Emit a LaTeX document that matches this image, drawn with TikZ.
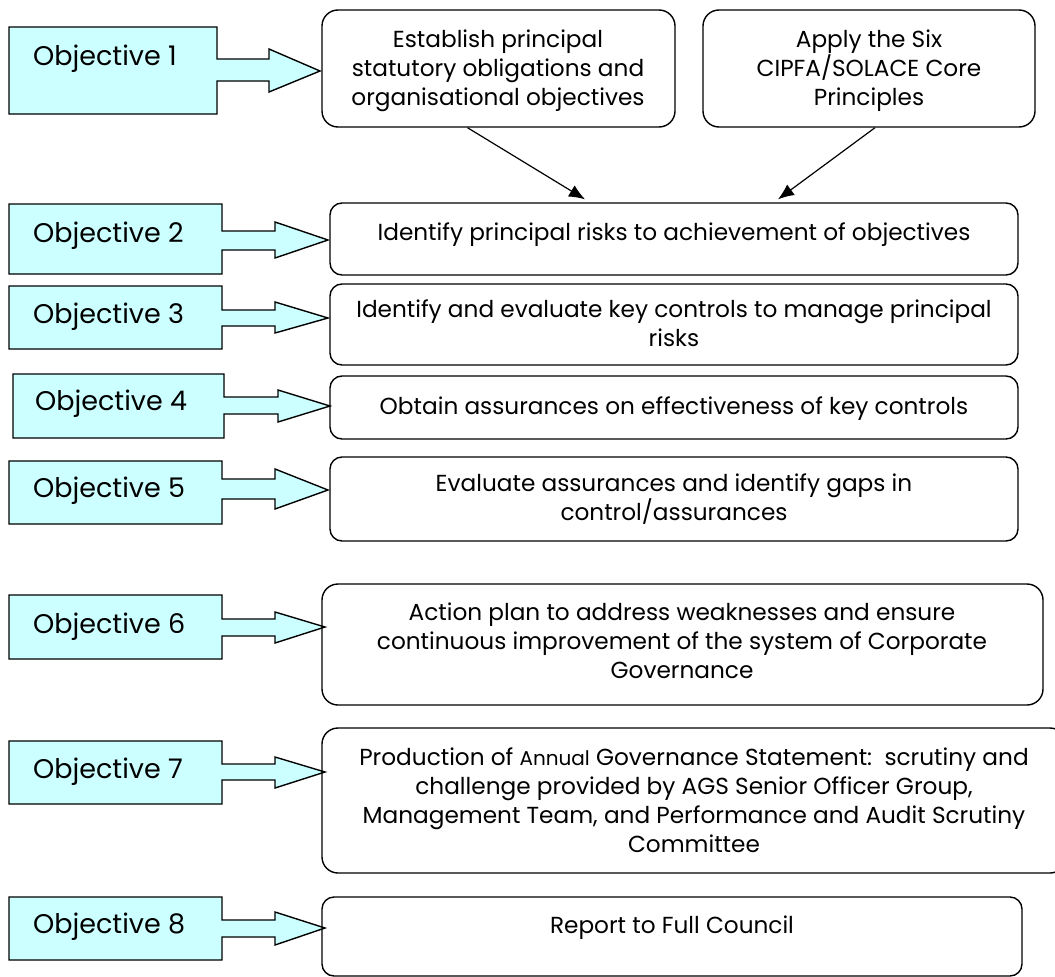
\documentclass[tikz,border=0pt]{standalone}
\usepackage{fontspec}
\setmainfont{Poppins}
\usetikzlibrary{arrows.meta}
\definecolor{objcyan}{RGB}{204,255,255}

\begin{document}
\begin{tikzpicture}[x=1pt,y=-1pt,>={Latex[length=16pt,width=13pt]},
    objshape/.style={draw=black,fill=objcyan,line width=1.4pt,line join=miter},
    objlabel/.style={anchor=base west,inner sep=0pt,font=\fontsize{27}{32}\selectfont},
    box/.style={draw=black,line width=1.4pt,rounded corners=12pt,inner sep=0pt},
    boxtext/.style={anchor=north,align=center,inner sep=0pt,font=\fontsize{23.2}{29}\selectfont,execute at begin node=\strut}]
                \useasboundingbox (0,0) rectangle (1055,977);
                \clip (0,0) rectangle (1055,977);
                % objectives
                \draw[objshape] (9,27) -- (217,27) -- (217,59) -- (269,59) -- (269,49) -- (320,71) -- (269,92) -- (269,81) -- (217,81) -- (217,114) -- (9,114) -- cycle;
                \draw[objshape] (9,204) -- (222,204) -- (222,231) -- (275,231) -- (275,222) -- (328,240) -- (275,258) -- (275,250) -- (222,250) -- (222,274) -- (9,274) -- cycle;
                \draw[objshape] (9,286) -- (222,286) -- (222,310) -- (275,310) -- (275,302) -- (328,318) -- (275,333) -- (275,326) -- (222,326) -- (222,349) -- (9,349) -- cycle;
                \draw[objshape] (13,374) -- (224,374) -- (224,397) -- (278,397) -- (278,390) -- (330,406) -- (278,422) -- (278,414) -- (224,414) -- (224,438) -- (13,438) -- cycle;
                \draw[objshape] (9,461) -- (222,461) -- (222,479) -- (275,479) -- (275,469) -- (328,490) -- (275,509) -- (275,499) -- (222,499) -- (222,524) -- (9,524) -- cycle;
                \draw[objshape] (9,595) -- (222,595) -- (222,619) -- (275,619) -- (275,612) -- (325,627) -- (275,643) -- (275,636) -- (222,636) -- (222,659) -- (9,659) -- cycle;
                \draw[objshape] (9,741) -- (222,741) -- (222,764) -- (275,764) -- (275,757) -- (325,772) -- (275,788) -- (275,780) -- (222,780) -- (222,804) -- (9,804) -- cycle;
                \draw[objshape] (9,897) -- (222,897) -- (222,920) -- (275,920) -- (275,912) -- (325,928) -- (275,945) -- (275,937) -- (222,937) -- (222,960) -- (9,960) -- cycle;
                \node[objlabel](o1)at(33, 65){Objective 1};
                \node[objlabel](o2)at(33, 242){Objective 2};
                \node[objlabel](o3)at(33, 323){Objective 3};
                \node[objlabel](o4)at(35, 410){Objective 4};
                \node[objlabel](o5)at(33, 497){Objective 5};
                \node[objlabel](o6)at(33, 633){Objective 6};
                \node[objlabel](o7)at(33, 778){Objective 7};
                \node[objlabel](o8)at(33, 933){Objective 8};

                % steps
                \node[box,rounded corners=16pt,minimum width=353pt,minimum height=117pt](s1)at(498.5, 68.5){};
                \node[box,rounded corners=16pt,minimum width=332pt,minimum height=117pt](s2)at(869, 68.5){};
                \node[box,minimum width=688pt,minimum height=72pt](s3)at(674, 239){};
                \node[box,minimum width=688pt,minimum height=81pt](s4)at(674, 324.5){};
                \node[box,minimum width=688pt,minimum height=63pt](s5)at(674, 407.5){};
                \node[box,minimum width=688pt,minimum height=84pt](s6)at(674, 499){};
                \node[box,rounded corners=16pt,minimum width=721pt,minimum height=121pt](s7)at(682.5, 644.5){};
                \node[box,rounded corners=16pt,minimum width=744pt,minimum height=145pt](s8)at(694, 800.5){};
                \node[box,minimum width=700pt,minimum height=79pt](s9)at(672, 936.5){};

                \node[boxtext](t1)at(498, 29.7){Establish principal\\statutory obligations and\\organisational objectives};
                \node[boxtext](t2)at(869, 29.7){Apply the Six\\CIPFA/SOLACE Core\\Principles};
                \node[boxtext](t3)at(674, 219.7){Identify principal risks to achievement of objectives};
                \node[boxtext](t4)at(674, 299.7){Identify and evaluate key controls to manage principal\\risks};
                \node[boxtext](t5)at(674, 393.7){Obtain assurances on effectiveness of key controls};
                \node[boxtext](t6)at(674, 473.7){Evaluate assurances and identify gaps in\\control/assurances};
                \node[boxtext](t7)at(682, 602.7){Action plan to address weaknesses and ensure\\continuous improvement of the system of Corporate\\Governance};
                \node[boxtext](t8)at(694, 747.7){Production of {\fontsize{20}{29}\selectfont Annual} Governance Statement:\ \ scrutiny and\\challenge provided by AGS Senior Officer Group,\\Management Team, and Performance and Audit Scrutiny\\Committee};
                \node[boxtext](t9)at(672, 912.7){Report to Full Council};

                \path[->,line width=1.2pt]
                ([xshift=-31pt]s1.south) edge ([xshift=-89pt,yshift=3pt]s3.north)
                ([xshift=6pt]s2.south) edge ([xshift=104pt,yshift=3pt]s3.north);
            \end{tikzpicture}
\end{document}
